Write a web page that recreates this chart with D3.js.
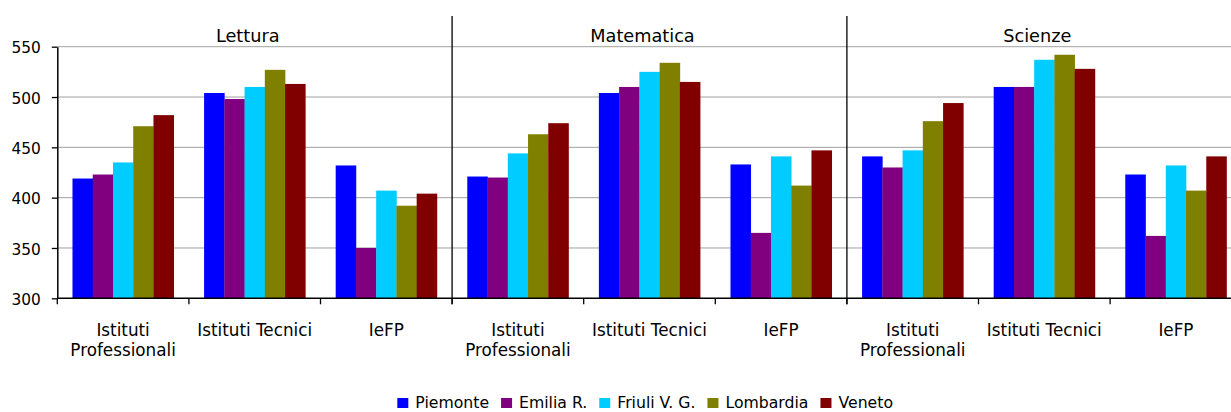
<!DOCTYPE html>
<html lang="it">
<head>
<meta charset="utf-8">
<title>Lettura, Matematica, Scienze</title>
<script src="https://cdn.jsdelivr.net/npm/d3@7"></script>
<style>
    html, body { margin: 0; padding: 0; background: #fff; }
    svg { display: block; font-family: 'DejaVu Sans', sans-serif; }
</style>
</head>
<body>
<svg></svg>
<script>

    // data
    const subjects = ['Lettura', 'Matematica', 'Scienze'];
    const schoolTypes = ['Istituti Professionali', 'Istituti Tecnici', 'IeFP'];
    const regions = ['Piemonte', 'Emilia R.', 'Friuli V. G.', 'Lombardia', 'Veneto'];
    const yTicks = [300, 350, 400, 450, 500, 550];

    // one array per region, order: subject x school type
    const piemonte  = [419, 504, 432,  421, 504, 433,  441, 510, 423];
    const emilia    = [423, 498, 350,  420, 510, 365,  430, 510, 362];
    const friuli    = [435, 510, 407,  444, 525, 441,  447, 537, 432];
    const lombardia = [471, 527, 392,  463, 534, 412,  476, 542, 407];
    const veneto    = [482, 513, 404,  474, 515, 447,  494, 528, 441];
    const seriesValues = [piemonte, emilia, friuli, lombardia, veneto];

    const colors = ['#0000ff', '#800080', '#00ccff', '#808000', '#800000'];

    let opt = {
        width: 1231,
        height: 412,
        plot: { left: 57.3, top: 46.7, bottom: 298.3, step: 131.6 },
        title: { size: '17.7px', y: 42.3, shift: -7 },
        x_labels: { size: '16.8px', y: 336, line: 20 },
        y_labels: { size: '15.4px' },
        legend: { size: '15.7px', y: 408, box: 10, gap: 7, space: 12 },
        grid: '#a0a0a0'
    };

    const cats = [];
    subjects.forEach(s => schoolTypes.forEach(t => cats.push(s + '|' + t)));

    let svg = d3.select('svg')
        .attr('width', opt.width)
        .attr('height', opt.height);

    let xScale = d3.scaleBand()
        .domain(cats)
        .range([opt.plot.left, opt.plot.left + opt.plot.step * cats.length])
        .padding(0);

    let innerScale = d3.scaleBand()
        .domain(regions)
        .range([0, xScale.bandwidth()])
        .paddingInner(0)
        .paddingOuter(0.75);

    let yScale = d3.scaleLinear()
        .domain([300, 550])
        .range([opt.plot.bottom, opt.plot.top]);

    // gridlines
    svg.append('g')
        .selectAll('line')
        .data(yTicks.slice(1))
        .enter()
        .append('line')
        .attr('x1', opt.plot.left)
        .attr('x2', opt.width)
        .attr('y1', d => yScale(d))
        .attr('y2', d => yScale(d))
        .style('stroke', opt.grid)
        .style('stroke-width', 1);

    // bars
    let rows = [];
    cats.forEach((c, i) => regions.forEach((r, j) => rows.push({ cat: c, region: r, value: seriesValues[j][i], color: colors[j] })));

    svg.append('g')
        .selectAll('rect')
        .data(rows)
        .enter()
        .append('rect')
        .attr('x', d => xScale(d.cat) + innerScale(d.region))
        .attr('y', d => yScale(d.value))
        .attr('width', innerScale.bandwidth() + 0.3)
        .attr('height', d => yScale(300) - yScale(d.value))
        .style('fill', d => d.color);

    // y axis
    let y_axis = svg.append('g')
        .attr('transform', `translate(${opt.plot.left},0)`)
        .call(d3.axisLeft(yScale).tickValues(yTicks).tickSize(5.5).tickPadding(11).tickSizeOuter(0));
    y_axis.select('.domain').attr('stroke', '#000').attr('stroke-width', 1.5);
    y_axis.selectAll('.tick line').attr('stroke', '#000').attr('stroke-width', 1.3);
    y_axis.selectAll('.tick text')
        .style('font-family', 'DejaVu Sans')
        .style('font-size', opt.y_labels.size)
        .attr('fill', '#000')
        .attr('dy', '0.4em');

    // x axis line
    svg.append('line')
        .attr('x1', opt.plot.left)
        .attr('x2', opt.width)
        .attr('y1', yScale(300))
        .attr('y2', yScale(300))
        .style('stroke', '#000')
        .style('stroke-width', 1.5);

    // category boundary ticks (excel style, between categories)
    let bounds = cats.map(c => xScale(c));
    svg.append('g')
        .selectAll('line')
        .data(bounds)
        .enter()
        .append('line')
        .attr('x1', d => d)
        .attr('x2', d => d)
        .attr('y1', yScale(300))
        .attr('y2', yScale(300) + 6)
        .style('stroke', '#000')
        .style('stroke-width', 1.3);

    // panel separators
    svg.append('g')
        .selectAll('line')
        .data(subjects.slice(1))
        .enter()
        .append('line')
        .attr('x1', d => xScale(d + '|' + schoolTypes[0]))
        .attr('x2', d => xScale(d + '|' + schoolTypes[0]))
        .attr('y1', 16)
        .attr('y2', yScale(300) + 6)
        .style('stroke', '#000')
        .style('stroke-width', 1.3);

    // category labels
    let xLabels = svg.append('g')
        .selectAll('text')
        .data(cats)
        .enter()
        .append('text')
        .attr('x', d => xScale(d) + xScale.bandwidth() / 2)
        .attr('y', opt.x_labels.y)
        .attr('text-anchor', 'middle')
        .style('font-size', opt.x_labels.size)
        .attr('fill', '#000')
        .text(d => d.split('|')[1]);

    xLabels.each(function(d) {
        let t = d3.select(this);
        if (this.getComputedTextLength() <= xScale.bandwidth() - 8) return;
        let words = d.split('|')[1].split(' ');
        let x = t.attr('x');
        t.text(null);
        words.forEach((w, i) => {
            t.append('tspan')
                .attr('x', x)
                .attr('dy', i == 0 ? 0 : opt.x_labels.line)
                .text(w);
        });
    });

    // panel titles
    svg.append('g')
        .selectAll('text')
        .data(subjects)
        .enter()
        .append('text')
        .attr('x', d => xScale(d + '|' + schoolTypes[1]) + xScale.bandwidth() / 2 + opt.title.shift)
        .attr('y', opt.title.y)
        .attr('text-anchor', 'middle')
        .style('font-size', opt.title.size)
        .attr('fill', '#000')
        .text(d => d);

    // legend
    let legend = svg.append('g');
    let lx = 0;
    regions.forEach((r, i) => {
        legend.append('rect')
            .attr('x', lx)
            .attr('y', opt.legend.y - opt.legend.box)
            .attr('width', opt.legend.box + 1)
            .attr('height', opt.legend.box)
            .style('fill', colors[i]);
        let t = legend.append('text')
            .attr('x', lx + opt.legend.box + 1 + opt.legend.gap)
            .attr('y', opt.legend.y)
            .style('font-size', opt.legend.size)
            .attr('fill', '#000')
            .text(r);
        lx += opt.legend.box + 1 + opt.legend.gap + t.node().getComputedTextLength() + opt.legend.space;
    });
    lx -= opt.legend.space;
    let plotMid = (opt.plot.left + opt.width) / 2;
    legend.attr('transform', `translate(${plotMid - lx / 2 + 1},0)`);

</script>
</body>
</html>
